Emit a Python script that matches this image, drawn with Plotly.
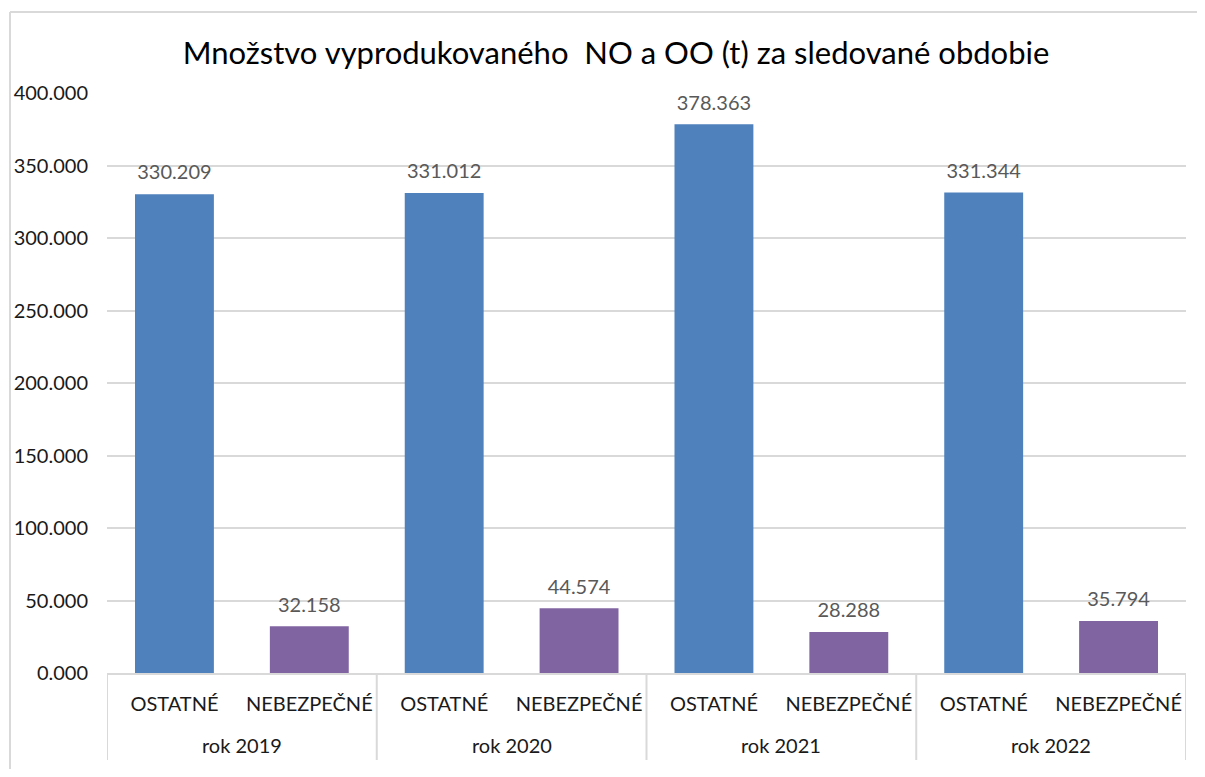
import plotly.graph_objects as go

years = ["rok 2019", "rok 2019", "rok 2020", "rok 2020", "rok 2021", "rok 2021", "rok 2022", "rok 2022"]
types = ["OSTATNÉ", "NEBEZPEČNÉ", "OSTATNÉ", "NEBEZPEČNÉ", "OSTATNÉ", "NEBEZPEČNÉ", "OSTATNÉ", "NEBEZPEČNÉ"]
values = [330.209, 32.158, 331.012, 44.574, 378.363, 28.288, 331.344, 35.794]
type_colors = {"OSTATNÉ": "#4F81BD", "NEBEZPEČNÉ": "#8064A2"}
y_ticks = [0, 50, 100, 150, 200, 250, 300, 350, 400]
group_labels = ["rok 2019", "rok 2020", "rok 2021", "rok 2022"]

# page has an 8px body margin; coordinates below are relative to the figure
W, H = 1197, 761
L, R, T, B = 99, 1178, 85, 665
pw, ph = R - L, B - T

keys = [f"{y}|{t}" for y, t in zip(years, types)]

fig = go.Figure()
fig.add_trace(go.Bar(
    x=keys,
    y=values,
    marker=dict(color=[type_colors[t] for t in types], line=dict(width=0)),
    hoverinfo="skip",
))
fig.add_trace(go.Scatter(
    x=keys,
    y=values,
    mode="markers+text",
    marker=dict(size=14, color="rgba(0,0,0,0)"),
    text=[f"{v:.3f}" for v in values],
    textposition="top center",
    textfont=dict(family="Lato", size=20, color="#595959"),
    cliponaxis=False,
    hoverinfo="skip",
))

# group (year) labels and dividers below the axis
annotations = []
shapes = []
for g in group_labels:
    members = [i for i, y in enumerate(years) if y == g]
    center = (members[0] + members[-1]) / 2
    annotations.append(dict(
        x=center, xref="x", y=-72 / ph, yref="paper",
        text=g, showarrow=False, xanchor="center", yanchor="middle",
        font=dict(family="Lato", size=20, color="#1a1a1a"),
    ))
boundaries = [-0.5] + [i + 0.5 for i in range(len(years) - 1) if years[i] != years[i + 1]] + [len(years) - 0.5]
for bx in boundaries:
    shapes.append(dict(
        type="line", xref="x", yref="paper", x0=bx, x1=bx, y0=0, y1=-87 / ph,
        line=dict(color="#D9D9D9", width=2),
    ))
# chart frame: top and left edges (the others fall outside the view)
shapes.append(dict(
    type="line", xref="paper", yref="paper",
    x0=(2 - L) / pw, x1=(W - L) / pw, y0=(B - 4) / ph, y1=(B - 4) / ph,
    line=dict(color="#D9D9D9", width=2), layer="below",
))
shapes.append(dict(
    type="line", xref="paper", yref="paper",
    x0=(2 - L) / pw, x1=(2 - L) / pw, y0=(B - 4) / ph, y1=(B - H) / ph,
    line=dict(color="#D9D9D9", width=2), layer="below",
))

fig.update_layout(
    width=W, height=H,
    margin=dict(l=L, r=W - R, t=T, b=H - B, autoexpand=False),
    paper_bgcolor="white", plot_bgcolor="white",
    bargap=0.415,
    showlegend=False,
    title=dict(
        text="Množstvo vyprodukovaného  NO a OO (t) za sledované obdobie",
        x=608 / W, xref="container", xanchor="center",
        y=1 - 45 / H, yref="container", yanchor="middle",
        font=dict(family="Lato", size=31, color="#000000"),
    ),
    xaxis=dict(
        type="category",
        automargin=False,
        tickangle=0,
        tickvals=keys,
        ticktext=types,
        showline=True, linecolor="#D9D9D9", linewidth=2,
        tickfont=dict(family="Lato", size=20, color="#1a1a1a"),
        showgrid=False, ticks="",
        ticklabelstandoff=12,
        range=[-0.5, len(keys) - 0.5],
    ),
    yaxis=dict(
        automargin=False,
        range=[0, 400],
        tickvals=y_ticks,
        tickformat=".3f",
        showgrid=True, gridcolor="#D9D9D9", gridwidth=2,
        zeroline=False, showline=False, ticks="",
        ticklabelstandoff=18,
        tickfont=dict(family="Lato", size=20, color="#1a1a1a"),
    ),
    annotations=annotations,
    shapes=shapes,
)

fig.write_html("out.html")
